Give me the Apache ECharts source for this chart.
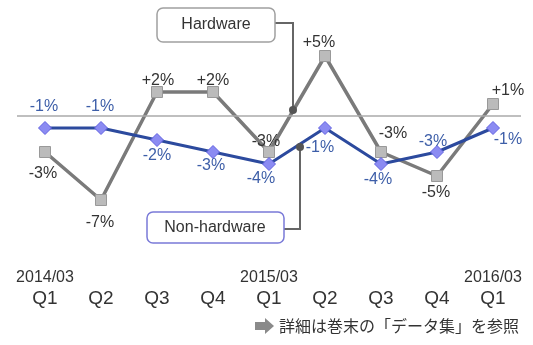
<!DOCTYPE html>
<html>
<head>
<meta charset="utf-8">
<script src="https://cdn.jsdelivr.net/npm/echarts@6/dist/echarts.min.js"></script>
<style>html,body{margin:0;padding:0;background:#fff}#c{width:533px;height:345px}</style>
</head>
<body>
<div id="c"></div>
<script>
const quarters = ['Q1','Q2','Q3','Q4','Q1','Q2','Q3','Q4','Q1'];
const years = ['2014/03','','','','2015/03','','','','2016/03'];
const hardware = [-3, -7, 2, 2, -3, 5, -3, -5, 1];
const nonHardware = [-1, -1, -2, -3, -4, -1, -4, -3, -1];

// label offsets (layout only)
const hwOffsets = [[-2,22],[-1,23],[1,-11],[0,-11],[-3,-10],[-6,-13],[12,-18],[-1,17],[15,-13]];
const nhOffsets = [[-1,-21],[-1,-21],[0,16],[-2,14],[-8,15],[-5,20],[-3,16],[-4,-10],[15,12]];

const fmt = v => (v > 0 ? '+' : '') + v + '%';
const chart = echarts.init(document.getElementById('c'));
const FONT = '"Liberation Sans", Arial, sans-serif';

chart.setOption({
  animation: false,
  grid: { left: 17, width: 504, top: 32, height: 180 },
  xAxis: {
    type: 'category',
    data: quarters.map((q, i) => i),
    boundaryGap: true,
    axisLine: { show: false },
    axisTick: { show: false },
    axisLabel: {
      interval: 0,
      margin: 56,
      formatter: (v, i) => '{y|' + (years[i] || ' ') + '}\n{q|' + quarters[i] + '}',
      rich: {
        y: { fontSize: 16, lineHeight: 20, color: '#333', fontFamily: FONT },
        q: { fontSize: 19, lineHeight: 22, color: '#333', fontFamily: FONT }
      }
    }
  },
  yAxis: {
    type: 'value', min: -8, max: 7,
    show: false, splitLine: { show: false }
  },
  series: [
    {
      name: 'Hardware', type: 'line', z: 3,
      data: hardware.map((v, i) => ({ value: v, label: { offset: hwOffsets[i] } })),
      symbol: 'rect', symbolSize: 11,
      lineStyle: { color: '#7a7a7a', width: 3.5 },
      itemStyle: { color: '#bbbbbb', borderColor: '#999', borderWidth: 1 },
      label: {
        show: true, position: 'inside', formatter: p => fmt(p.value),
        color: '#333', fontSize: 16, fontFamily: FONT
      },
      markLine: {
        silent: true, symbol: 'none', label: { show: false },
        lineStyle: { color: '#aaaaaa', width: 1.5, type: 'solid' },
        data: [{ yAxis: 0 }]
      }
    },
    {
      name: 'Non-hardware', type: 'line', z: 4,
      data: nonHardware.map((v, i) => ({ value: v, label: { offset: nhOffsets[i] } })),
      symbol: 'diamond', symbolSize: 13,
      lineStyle: { color: '#2c4a9e', width: 3 },
      itemStyle: { color: '#8b8bf2', borderColor: '#6060e0', borderWidth: 1 },
      label: {
        show: true, position: 'inside', formatter: p => fmt(p.value),
        color: '#3d5ea8', fontSize: 16, fontFamily: FONT
      }
    }
  ],
  graphic: [
    { type: 'polyline', z: 10, shape: { points: [[275,23],[293,23],[293,110]] }, style: { stroke: '#666', lineWidth: 2, fill: null } },
    { type: 'circle', z: 11, shape: { cx: 293, cy: 110, r: 4 }, style: { fill: '#555' } },
    { type: 'rect', z: 10, shape: { x: 157, y: 8, width: 118, height: 34, r: 6 }, style: { fill: '#fff', stroke: '#a0a0a0', lineWidth: 1.5 } },
    { type: 'text', z: 11, x: 216, y: 25, style: { text: 'Hardware', fill: '#333', font: '16px "Liberation Sans", Arial, sans-serif', textAlign: 'center', textVerticalAlign: 'middle' } },

    { type: 'polyline', z: 10, shape: { points: [[284,229],[300,229],[300,147]] }, style: { stroke: '#666', lineWidth: 2, fill: null } },
    { type: 'circle', z: 11, shape: { cx: 300, cy: 147, r: 4 }, style: { fill: '#555' } },
    { type: 'rect', z: 10, shape: { x: 147, y: 212, width: 137, height: 31, r: 6 }, style: { fill: '#fff', stroke: '#7a7ad8', lineWidth: 1.5 } },
    { type: 'text', z: 11, x: 215, y: 228, style: { text: 'Non-hardware', fill: '#333', font: '16px "Liberation Sans", Arial, sans-serif', textAlign: 'center', textVerticalAlign: 'middle' } },

    { type: 'polygon', z: 11, shape: { points: [[255,322],[265,322],[265,318],[274,326],[265,334],[265,330],[255,330]] }, style: { fill: '#8a8a8a' } },
    { type: 'text', z: 11, x: 279, y: 326, style: { text: '詳細は巻末の「データ集」を参照', fill: '#333', font: '16px "Noto Sans CJK JP", sans-serif', textVerticalAlign: 'middle' } }
  ]
});
</script>
</body>
</html>
